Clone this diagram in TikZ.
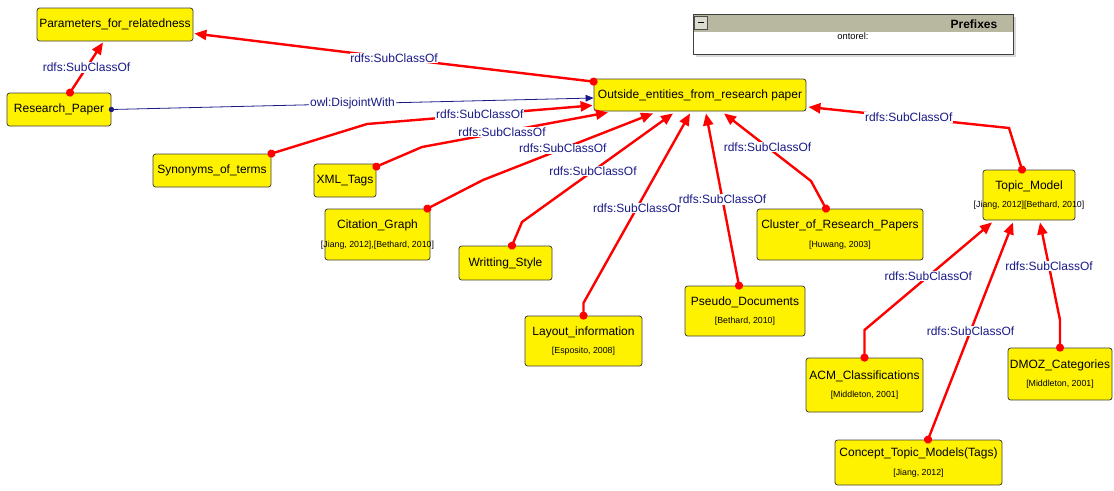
\documentclass[tikz,border=0pt]{standalone}
\usepackage{fontspec}
\setmainfont{Liberation Sans}
\usetikzlibrary{arrows.meta,calc}
\definecolor{lnk}{RGB}{25,25,135}
\definecolor{hdr}{RGB}{184,184,160}
\newcommand{\src}[1]{\\[4pt]{\fontsize{6.6}{7.5}\selectfont\makebox[0pt]{#1}}}
\tikzset{cls/.style={draw=black!75,fill=yellow,rounded corners=2pt,line width=.6pt,align=center,inner sep=0pt,font=\fontsize{9}{10}\selectfont},
 sub/.style={red,line width=1.8pt,{Circle[length=6pt]}-{Triangle[length=9pt,width=7.5pt]},shorten <=-3pt},
 dis/.style={lnk,line width=.6pt,{Circle[length=4pt]}-{Triangle[length=6pt,width=5pt]},shorten <=-2pt},
 lbl/.style={fill=white,text=lnk,inner sep=.5pt,font=\fontsize{9}{10}\selectfont}}
\begin{document}
\begin{tikzpicture}[x=.75pt,y=-.75pt]
\useasboundingbox(0,0)rectangle(1114,490);
% prefixes panel
\fill[black!15](696,17)rectangle(1016,57);
\draw[black!75,line width=.75pt,fill=white](693,14)rectangle(1013,54);
\fill[hdr](693.5,14.5)rectangle(1012.5,32);
\draw[black!75,line width=.75pt](693,14)rectangle(1013,54);
\draw[black!70,fill=hdr!50](694.5,16)rectangle(707,29);
\draw[black](697.5,22.5)--(704,22.5);
\node[anchor=east,font=\bfseries\fontsize{9}{10}\selectfont](pfx) at(1002,24){Prefixes};
\node[font=\fontsize{7}{8}\selectfont](ns) at(853,36){ontorel:};
% classes
\node[cls,minimum width=117pt,minimum height=24.75pt](par) at(115,24.5){Parameters\_for\_relatedness};
\node[cls,minimum width=78pt,minimum height=24.75pt](rp) at(59,109.5){Research\_Paper};
\node[cls,minimum width=159pt,minimum height=24pt](out) at(700,95){Outside\_entities\_from\_research paper};
\node[cls,minimum width=88.5pt,minimum height=24.75pt](syn) at(212,170.5){Synonyms\_of\_terms};
\node[cls,minimum width=46.5pt,minimum height=24.75pt](xml) at(345,180.5){XML\_Tags};
\node[cls,minimum width=78.75pt,minimum height=38.25pt](cit) at(377.5,234.5){Citation\_Graph\src{[Jiang, 2012],[Bethard, 2010]}};
\node[cls,minimum width=69.75pt,minimum height=25.5pt](wri) at(505.5,263){Writting\_Style};
\node[cls,minimum width=87.75pt,minimum height=37.5pt](lay) at(583.5,341){Layout\_information\src{[Esposito, 2008]}};
\node[cls,minimum width=90pt,minimum height=37.5pt](pse) at(745,311){Pseudo\_Documents\src{[Bethard, 2010]}};
\node[cls,minimum width=124.5pt,minimum height=38.25pt](clu) at(840,234.5){Cluster\_of\_Research\_Papers\src{[Huwang, 2003]}};
\node[cls,minimum width=69pt,minimum height=37.5pt](top) at(1029,195){Topic\_Model\src{[Jiang, 2012][Bethard, 2010]}};
\node[cls,minimum width=87.75pt,minimum height=40.5pt](acm) at(864.5,385){ACM\_Classifications\src{[Middleton, 2001]}};
\node[cls,minimum width=78pt,minimum height=39pt](dmoz) at(1060,374){DMOZ\_Categories\src{[Middleton, 2001]}};
\node[cls,minimum width=125.25pt,minimum height=33.75pt](ctm) at(918.5,462.5){Concept\_Topic\_Models(Tags)\src{[Jiang, 2012]}};
% relations
\draw[sub]($(rp.north)+(11,0)$)--node[lbl]{rdfs:SubClassOf}($(par.south)+(-12,1)$);
\draw[sub]($(out.north west)+(0,3)$)--(394,58)node[lbl]{rdfs:SubClassOf}--($(par.east)+(1,9)$);
\draw[dis](rp.east)--node[lbl]{owl:DisjointWith}($(out.west)+(0,3)$);
\draw[sub](syn.north east)--(367,124)--node[lbl]{rdfs:SubClassOf}($(out.south west)+(-1,-6)$);
\draw[sub]($(xml.north east)+(0,3)$)--(422,147)--node[lbl,pos=.43]{rdfs:SubClassOf}($(out.south)+(-92,1)$);
\draw[sub]($(cit.north east)+(-3,0)$)--(483,180)--node[lbl,pos=.47]{rdfs:SubClassOf}($(out.south)+(-47,2)$);
\draw[sub]($(wri.north)+(6.5,0)$)--(522,222)--node[lbl,pos=.47]{rdfs:SubClassOf}($(out.south)+(-27,2)$);
\draw[sub](lay.north)--(583.5,303)--node[lbl]{rdfs:SubClassOf}($(out.south)+(-10,2)$);
\draw[sub]($(pse.north)+(-6,0)$)--node[lbl]{rdfs:SubClassOf}($(out.south)+(6,2)$);
\draw[sub]($(clu.north)+(-14,0)$)--(811,181)--node[lbl]{rdfs:SubClassOf}($(out.south)+(24,2)$);
\draw[sub]($(top.north)+(-7,0)$)--(1009,128)--node[lbl]{rdfs:SubClassOf}($(out.east)+(2,12)$);
\draw[sub](acm.north)--(864.5,330)--node[lbl]{rdfs:SubClassOf}($(top.south)+(-37,2)$);
\draw[sub]($(ctm.north)+(9.5,0)$)--node[lbl]{rdfs:SubClassOf}($(top.south)+(-16,2)$);
\draw[sub](dmoz.north)--(1060,320)--node[lbl,pos=.55]{rdfs:SubClassOf}($(top.south)+(11,2)$);
\end{tikzpicture}
\end{document}
